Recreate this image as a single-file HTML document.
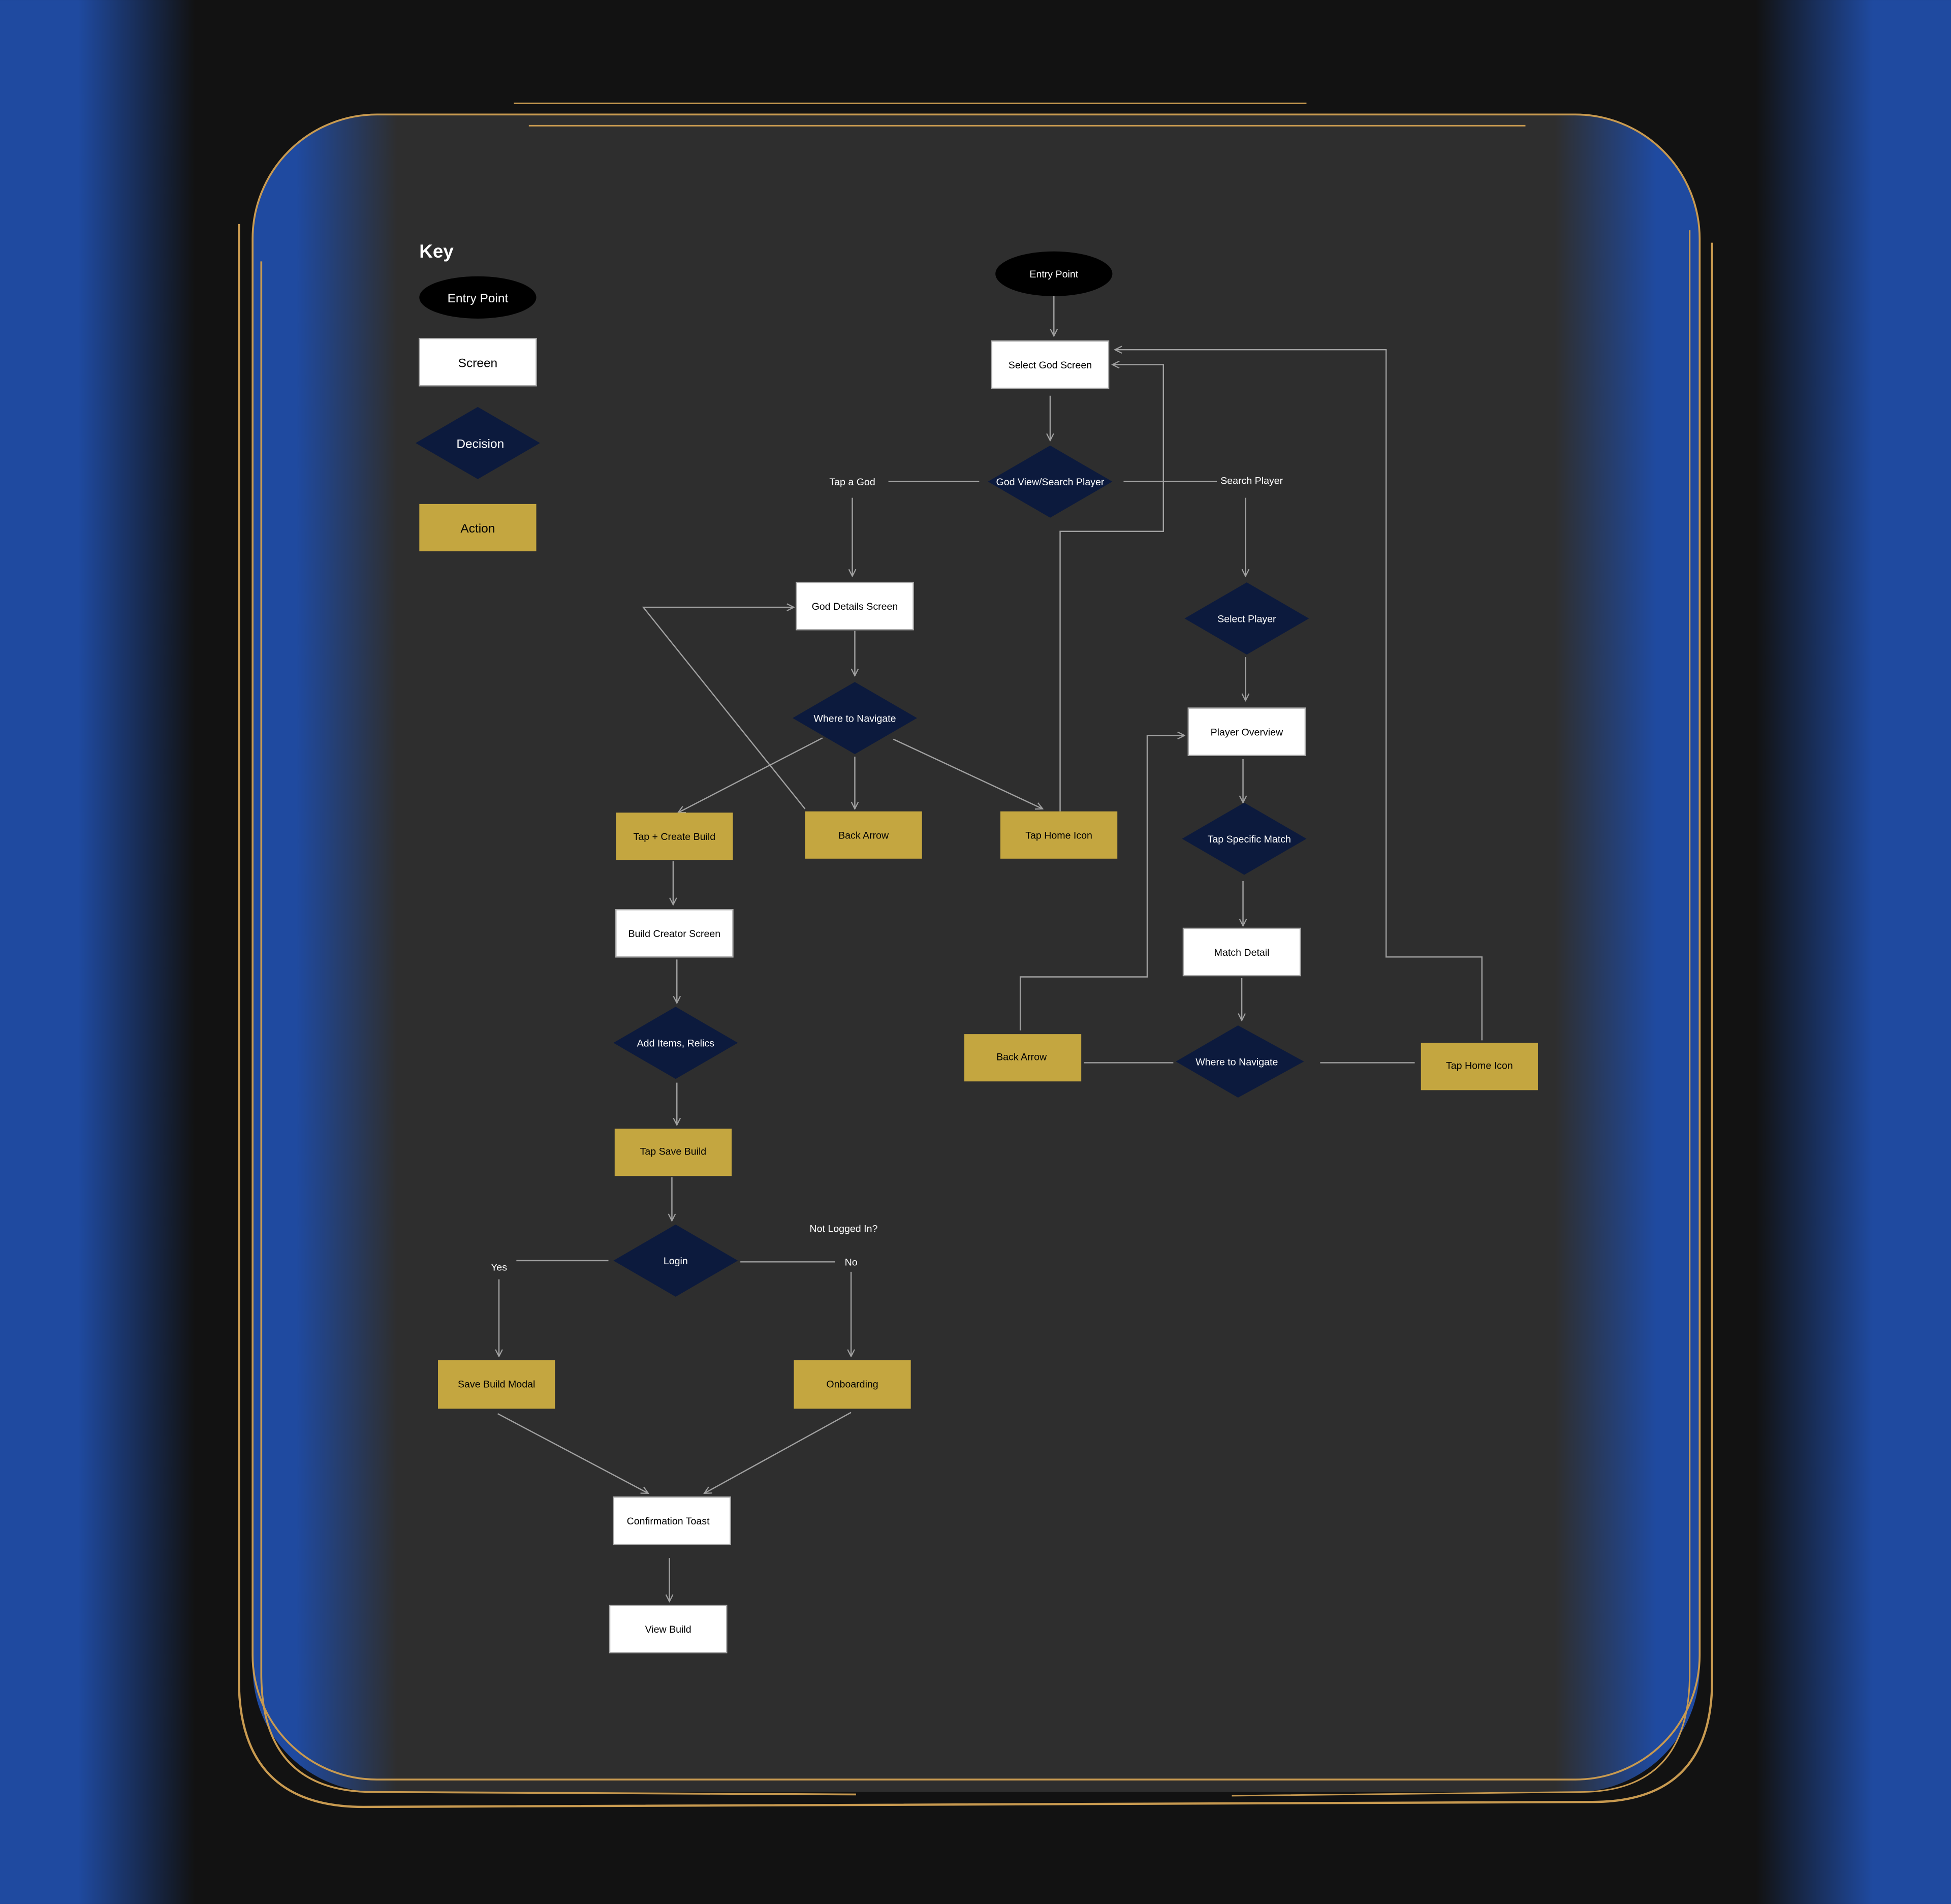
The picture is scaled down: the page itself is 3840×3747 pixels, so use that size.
<!DOCTYPE html>
<html><head><meta charset="utf-8"><style>
html,body{margin:0;padding:0;background:#121212;}
svg{display:block;}
text{font-family:"Liberation Sans",sans-serif;}
</style></head><body>
<svg width="3840" height="3747" viewBox="0 0 1568 1530" xmlns="http://www.w3.org/2000/svg">
<defs>
<linearGradient id="bg" x1="0" x2="1" y1="0" y2="0">
<stop offset="0" stop-color="#1f4aa0"/><stop offset="0.04" stop-color="#1f4aa0"/>
<stop offset="0.1" stop-color="#121212"/><stop offset="0.9" stop-color="#121212"/>
<stop offset="0.96" stop-color="#1f4aa0"/><stop offset="1" stop-color="#1f4aa0"/>
</linearGradient>
<linearGradient id="card" x1="203" x2="1366" y1="0" y2="0" gradientUnits="userSpaceOnUse">
<stop offset="0" stop-color="#1f4aa0"/><stop offset="0.03" stop-color="#1f4aa0"/>
<stop offset="0.1" stop-color="#2e2e2e"/><stop offset="0.9" stop-color="#2e2e2e"/>
<stop offset="0.97" stop-color="#1f4aa0"/><stop offset="1" stop-color="#1f4aa0"/>
</linearGradient>
<marker id="a" viewBox="0 0 10 10" refX="9" refY="5" markerWidth="7" markerHeight="7" orient="auto" markerUnits="userSpaceOnUse">
<path d="M1,1 L9,5 L1,9" fill="none" stroke="#a0a0a0" stroke-width="1.3"/>
</marker>
</defs>
<rect width="1568" height="1530" fill="url(#bg)"/>
<rect x="203" y="92" width="1163" height="1348" rx="100" fill="url(#card)"/>
<g fill="none" stroke="#c89a50" stroke-width="1.5">
<rect x="203" y="92" width="1163" height="1338" rx="100"/>
<path d="M192,180 L192,1350 Q192,1452 292,1452 L1280,1448 Q1376,1448 1376,1350 L1376,195" stroke-width="1.8"/>
<path d="M210,210 L210,1345 Q210,1440 300,1440 L688,1442"/>
<path d="M990,1443 L1270,1440 Q1358,1440 1358,1345 L1358,185" stroke-width="1.2"/>
<path d="M413,83 L1050,83" stroke-width="1.2"/>
<path d="M425,101 L1226,101" stroke-width="1.2"/>
</g>
<g font-size="8.5" text-anchor="middle" fill="#000">
<!-- key -->
<text x="337" y="207" font-size="15" font-weight="bold" fill="#fff" text-anchor="start">Key</text>
<ellipse cx="384" cy="239" rx="47" ry="17" fill="#000"/>
<text x="384" y="243" font-size="10" fill="#fff">Entry Point</text>
<rect x="337" y="272" width="94" height="38" fill="#fff" stroke="#aaa"/>
<text x="384" y="295" font-size="10">Screen</text>
<polygon points="334,356 384,327 434,356 384,385" fill="#0c1a3d"/>
<text x="386" y="360" font-size="10" fill="#fff">Decision</text>
<rect x="337" y="405" width="94" height="38" fill="#c4a640"/>
<text x="384" y="428" font-size="10">Action</text>
</g>
<g fill="none" stroke="#a0a0a0" stroke-width="1">
<line x1="847" y1="238" x2="847" y2="270" marker-end="url(#a)"/>
<line x1="844" y1="318" x2="844" y2="354" marker-end="url(#a)"/>
<line x1="714" y1="387" x2="787" y2="387"/>
<line x1="903" y1="387" x2="978" y2="387"/>
<line x1="685" y1="400" x2="685" y2="463" marker-end="url(#a)"/>
<line x1="687" y1="507" x2="687" y2="543" marker-end="url(#a)"/>
<line x1="661" y1="593" x2="545" y2="653" marker-end="url(#a)"/>
<line x1="687" y1="608" x2="687" y2="650" marker-end="url(#a)"/>
<line x1="718" y1="594" x2="838" y2="650" marker-end="url(#a)"/>
<polyline points="647,650 517,488 638,488" marker-end="url(#a)"/>
<polyline points="852,652 852,427 935,427 935,293 894,293" marker-end="url(#a)"/>
<line x1="1001" y1="400" x2="1001" y2="463" marker-end="url(#a)"/>
<line x1="1001" y1="528" x2="1001" y2="563" marker-end="url(#a)"/>
<line x1="999" y1="610" x2="999" y2="645" marker-end="url(#a)"/>
<line x1="999" y1="708" x2="999" y2="744" marker-end="url(#a)"/>
<line x1="998" y1="786" x2="998" y2="820" marker-end="url(#a)"/>
<line x1="871" y1="854" x2="943" y2="854"/>
<line x1="1061" y1="854" x2="1137" y2="854"/>
<polyline points="820,828 820,785 922,785 922,591 952,591" marker-end="url(#a)"/>
<polyline points="1191,836 1191,769 1114,769 1114,281 896,281" marker-end="url(#a)"/>
<line x1="541" y1="692" x2="541" y2="727" marker-end="url(#a)"/>
<line x1="544" y1="771" x2="544" y2="806" marker-end="url(#a)"/>
<line x1="544" y1="870" x2="544" y2="904" marker-end="url(#a)"/>
<line x1="540" y1="946" x2="540" y2="981" marker-end="url(#a)"/>
<line x1="415" y1="1013" x2="489" y2="1013"/>
<line x1="595" y1="1014" x2="671" y2="1014"/>
<line x1="401" y1="1028" x2="401" y2="1090" marker-end="url(#a)"/>
<line x1="684" y1="1022" x2="684" y2="1090" marker-end="url(#a)"/>
<line x1="400" y1="1136" x2="521" y2="1200" marker-end="url(#a)"/>
<line x1="684" y1="1135" x2="566" y2="1200" marker-end="url(#a)"/>
<line x1="538" y1="1252" x2="538" y2="1287" marker-end="url(#a)"/>
</g>
<g font-size="8" text-anchor="middle" fill="#000">
<ellipse cx="847" cy="220" rx="47" ry="18" fill="#000"/>
<text x="847" y="223" fill="#fff">Entry Point</text>
<rect x="797" y="274" width="94" height="38" fill="#fff" stroke="#aaa"/><text x="844" y="296">Select God Screen</text>
<polygon points="794,387 844,358 894,387 844,416" fill="#0c1a3d"/><text x="844" y="390" fill="#fff">God View/Search Player</text>
<text x="685" y="390" fill="#fff">Tap a God</text>
<text x="1006" y="389" fill="#fff">Search Player</text>
<rect x="640" y="468" width="94" height="38" fill="#fff" stroke="#aaa"/><text x="687" y="490">God Details Screen</text>
<polygon points="637,577 687,548 737,577 687,606" fill="#0c1a3d"/><text x="687" y="580" fill="#fff">Where to Navigate</text>
<rect x="495" y="653" width="94" height="38" fill="#c4a640"/><text x="542" y="675">Tap + Create Build</text>
<rect x="647" y="652" width="94" height="38" fill="#c4a640"/><text x="694" y="674">Back Arrow</text>
<rect x="804" y="652" width="94" height="38" fill="#c4a640"/><text x="851" y="674">Tap Home Icon</text>
<polygon points="952,497 1002,468 1052,497 1002,526" fill="#0c1a3d"/><text x="1002" y="500" fill="#fff">Select Player</text>
<rect x="955" y="569" width="94" height="38" fill="#fff" stroke="#aaa"/><text x="1002" y="591">Player Overview</text>
<polygon points="950,674 1000,645 1050,674 1000,703" fill="#0c1a3d"/><text x="1004" y="677" fill="#fff">Tap Specific Match</text>
<rect x="951" y="746" width="94" height="38" fill="#fff" stroke="#aaa"/><text x="998" y="768">Match Detail</text>
<polygon points="945,853 995,824 1048,853 995,882" fill="#0c1a3d"/><text x="994" y="856" fill="#fff">Where to Navigate</text>
<rect x="775" y="831" width="94" height="38" fill="#c4a640"/><text x="821" y="852">Back Arrow</text>
<rect x="1142" y="838" width="94" height="38" fill="#c4a640"/><text x="1189" y="859">Tap Home Icon</text>
<rect x="495" y="731" width="94" height="38" fill="#fff" stroke="#aaa"/><text x="542" y="753">Build Creator Screen</text>
<polygon points="493,838 543,809 593,838 543,867" fill="#0c1a3d"/><text x="543" y="841" fill="#fff">Add Items, Relics</text>
<rect x="494" y="907" width="94" height="38" fill="#c4a640"/><text x="541" y="928">Tap Save Build</text>
<polygon points="493,1013 543,984 593,1013 543,1042" fill="#0c1a3d"/><text x="543" y="1016" fill="#fff">Login</text>
<text x="401" y="1021" fill="#fff">Yes</text>
<text x="684" y="1017" fill="#fff">No</text>
<text x="678" y="990" fill="#fff">Not Logged In?</text>
<rect x="352" y="1093" width="94" height="39" fill="#c4a640"/><text x="399" y="1115">Save Build Modal</text>
<rect x="638" y="1093" width="94" height="39" fill="#c4a640"/><text x="685" y="1115">Onboarding</text>
<rect x="493" y="1203" width="94" height="38" fill="#fff" stroke="#aaa"/><text x="537" y="1225">Confirmation Toast</text>
<rect x="490" y="1290" width="94" height="38" fill="#fff" stroke="#aaa"/><text x="537" y="1312">View Build</text>
</g>
</svg>
</body></html>
